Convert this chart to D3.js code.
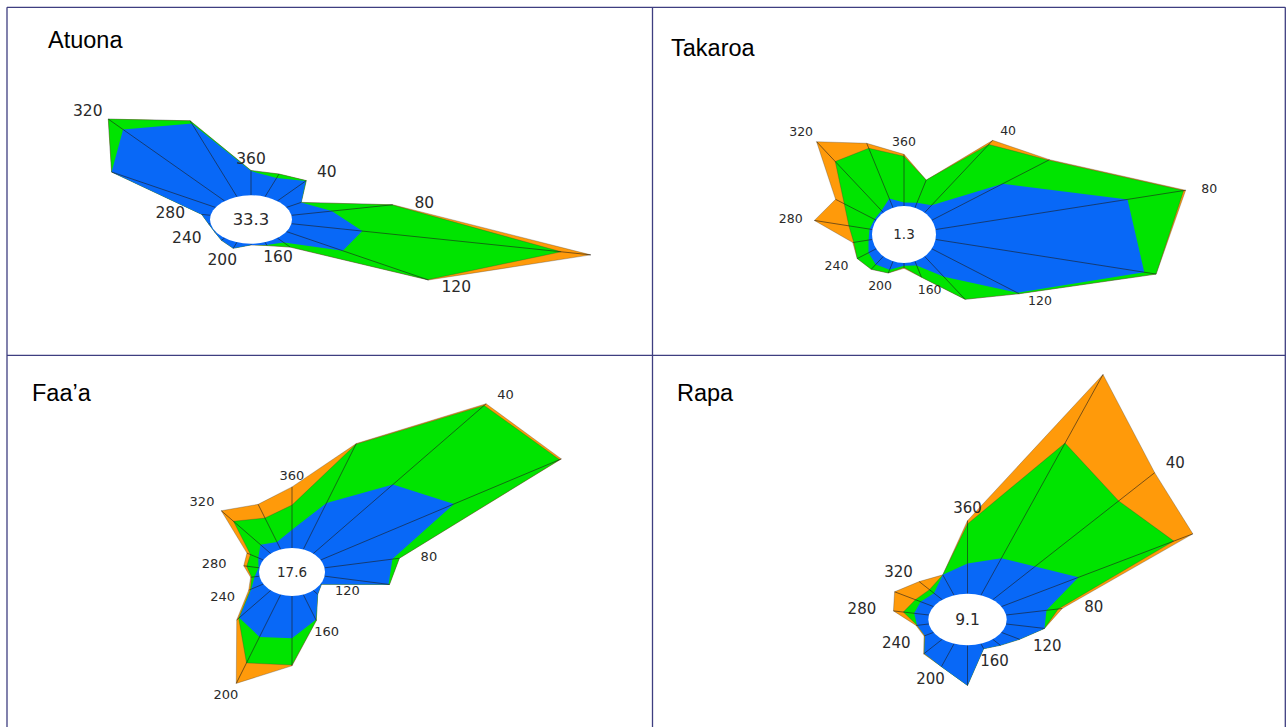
<!DOCTYPE html>
<html>
<head>
<meta charset="utf-8">
<script src="https://cdn.jsdelivr.net/npm/d3@7"></script>
<style>
body{margin:0;background:#fff;}
svg{display:block;}
</style>
</head>
<body>
<svg id="chart" width="1286" height="727"></svg>
<script>
//Data: wind direction sectors and frequencies per speed class------------------------------------------
var directions = [20,40,60,80,100,120,140,160,180,200,220,240,260,280,300,320,340,360];
var tickLabels = [40,80,120,160,200,240,280,320,360];
var stationNames = ["Atuona","Takaroa","Faa\u2019a","Rapa"];
var calmValues = ["33.3","1.3","17.6","9.1"];

//Atuona
var atuonaLow  = [3.4,4.4,1.7,4.1,7.2,6.5,1.0,0.5,0.2,1.1,0.5,0.1,0.2,0.9,12.0,15.8,13.2,4.1];
var atuonaMid  = [0.7,0.1,0.0,6.1,20.2,9.8,1.0,0.1,0.0,0.0,0.0,0.0,0.0,0.0,0.0,2.3,0.5,0.1];
var atuonaHigh = [0.0,0.0,0.0,0.1,3.0,0.1,0.0,0.0,0.0,0.0,0.0,0.0,0.0,0.0,0.0,0.0,0.0,0.0];
//Takaroa
var takaroaLow  = [0.6,1.1,8.2,19.5,21.2,9.9,3.0,0.5,0.3,1.0,1.2,0.9,0.4,0.3,0.2,0.3,1.1,0.4];
var takaroaMid  = [2.7,8.9,5.3,5.7,1.2,0.2,3.3,1.4,0.2,0.4,0.7,1.3,1.5,2.1,3.5,7.2,6.0,5.2];
var takaroaHigh = [0.0,0.6,0.1,0.2,0.0,0.0,0.0,0.0,0.1,0.0,0.0,0.0,0.1,3.5,1.0,2.9,0.6,0.2];
//Faa'a
var faaaLow  = [6.8,12.4,15.4,6.9,6.5,0.1,0.7,3.7,5.8,6.2,4.9,1.4,0.5,0.1,0.6,1.6,1.1,2.5];
var faaaMid  = [8.6,14.2,12.2,0.7,0.1,0.0,0.0,0.1,3.7,3.8,0.1,0.1,0.3,1.2,0.9,4.2,3.5,3.4];
var faaaHigh = [0.1,0.3,0.2,0.0,0.0,0.0,0.0,0.0,0.1,3.0,0.3,0.2,0.1,0.3,0.4,1.9,2.0,2.5];
//Rapa
var rapaLow  = [6.0,6.6,8.9,4.1,3.9,2.1,1.2,0.8,6.1,3.7,2.8,1.0,1.2,1.5,1.5,1.3,3.3,4.6];
var rapaMid  = [18.6,13.0,11.0,1.2,0.0,0.0,0.0,0.0,0.0,0.0,0.0,0.0,0.0,1.1,0.6,0.7,0.0,6.0];
var rapaHigh = [11.1,5.6,2.2,0.4,0.0,0.0,0.0,0.0,0.0,0.0,0.1,0.1,0.1,1.0,2.4,1.6,0.0,0.5];

var speedKeys = ["low","mid","high"];
var speedColors = ["#0868f7","#00e400","#ff9a0a"];

//Layout of the four cells of the table----------------------------------------------------------------
var panels = [
	{name:stationNames[0], calm:calmValues[0], low:atuonaLow, mid:atuonaMid, high:atuonaHigh,
	 cx:251, cy:219.5, rx:41, ry:24.2, titleX:48, titleY:48, font:15.5, calmFont:16.5, padX:32, padY:12},
	{name:stationNames[1], calm:calmValues[1], low:takaroaLow, mid:takaroaMid, high:takaroaHigh,
	 cx:904, cy:234.5, rx:32, ry:28.5, titleX:671, titleY:56, font:12.5, calmFont:13.5, padX:24, padY:13},
	{name:stationNames[2], calm:calmValues[2], low:faaaLow, mid:faaaMid, high:faaaHigh,
	 cx:292, cy:572, rx:33, ry:24, titleX:32, titleY:401, font:13, calmFont:13.5, padX:30, padY:12},
	{name:stationNames[3], calm:calmValues[3], low:rapaLow, mid:rapaMid, high:rapaHigh,
	 cx:967.5, cy:619.5, rx:39.2, ry:25.8, titleX:677, titleY:401, font:15, calmFont:15.5, padX:32, padY:13}
];

var svg = d3.select("#chart");
var angle = d3.scaleLinear().domain([0,360]).range([0,2*Math.PI]);

//Table grid-------------------------------------------------------------------------------------------
var gridColor = "#3e3e80";
var grid = svg.append("g").attr("stroke",gridColor).attr("stroke-width",1.3);
[7,652.5,1285.3].forEach(function(x){
	grid.append("line").attr("x1",x).attr("x2",x).attr("y1",7.3).attr("y2",727);
});
[7.3,355.3].forEach(function(y){
	grid.append("line").attr("x1",7).attr("x2",1285.3).attr("y1",y).attr("y2",y);
});

//Draw one wind rose-----------------------------------------------------------------------------------
function DrawRose(p)
{
	var rows = directions.map(function(d,i){
		return {dir:d, low:p.low[i], mid:p.mid[i], high:p.high[i]};
	});
	var stacked = d3.stack().keys(speedKeys)(rows);
	var maxValue = d3.max(stacked[2], function(d){ return d[1]; });
	var radius = d3.scaleLinear().domain([0,maxValue]).range([p.rx, p.rx + maxValue*10]);
	var squash = p.ry/p.rx;

	function px(dir,v){ return p.cx + radius(v)*Math.sin(angle(dir)); }
	function py(dir,v){ return p.cy - radius(v)*Math.cos(angle(dir))*squash; }

	var g = svg.append("g");

	//outer layer first, inner layer on top
	for(var k=2;k>=0;k--)
	{
		var line = d3.line()
			.x(function(d){ return px(d.data.dir,d[1]); })
			.y(function(d){ return py(d.data.dir,d[1]); })
			.curve(d3.curveLinearClosed);
		g.append("path")
			.datum(stacked[k])
			.attr("d",line)
			.attr("fill",speedColors[k])
			.attr("stroke",k==0 ? "none" : "#3a3a3a")
			.attr("stroke-width",0.5)
			.attr("stroke-opacity",0.6);
	}

	//spokes from the calm circle to the outer edge
	g.selectAll("line.spoke")
		.data(stacked[2])
		.enter()
		.append("line")
		.attr("class","spoke")
		.attr("x1",function(d){ return px(d.data.dir,0); })
		.attr("y1",function(d){ return py(d.data.dir,0); })
		.attr("x2",function(d){ return px(d.data.dir,d[1]); })
		.attr("y2",function(d){ return py(d.data.dir,d[1]); })
		.attr("stroke","#1c1c1c")
		.attr("stroke-width",0.7)
		.attr("stroke-opacity",0.85);

	//calm circle
	g.append("ellipse")
		.attr("cx",p.cx)
		.attr("cy",p.cy)
		.attr("rx",p.rx)
		.attr("ry",p.ry)
		.attr("fill","#fff");

	g.append("text")
		.attr("x",p.cx)
		.attr("y",p.cy)
		.attr("dy","0.36em")
		.attr("text-anchor","middle")
		.style("font-family","DejaVu Sans")
		.style("font-size",p.calmFont + "px")
		.style("fill","#2a2a2a")
		.text(p.calm);

	//direction labels
	var outer = {};
	stacked[2].forEach(function(d){ outer[d.data.dir] = d[1]; });
	g.selectAll("text.dir")
		.data(tickLabels)
		.enter()
		.append("text")
		.attr("class","dir")
		.attr("x",function(d){ return px(d,outer[d]) + p.padX*Math.sin(angle(d)); })
		.attr("y",function(d){ return py(d,outer[d]) - p.padY*Math.cos(angle(d)); })
		.attr("dy","0.36em")
		.attr("text-anchor","middle")
		.style("font-family","DejaVu Sans")
		.style("font-size",p.font + "px")
		.style("fill","#2a2a2a")
		.text(function(d){ return d; });

	//station title
	svg.append("text")
		.attr("x",p.titleX)
		.attr("y",p.titleY)
		.style("font-family","Liberation Sans")
		.style("font-size","23.5px")
		.style("fill","#000")
		.text(p.name);
}

panels.forEach(DrawRose);
</script>
</body>
</html>
